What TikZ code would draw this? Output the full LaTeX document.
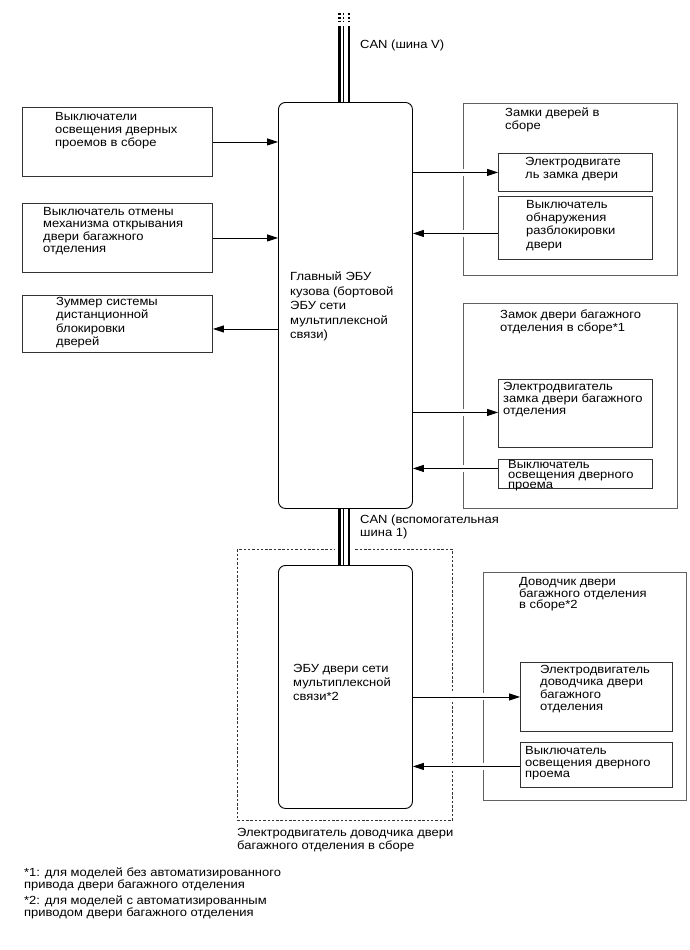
\documentclass[tikz,border=0pt]{standalone}
\usepackage{fontspec}
\setmainfont{Liberation Sans}[FakeStretch=1.1]
\usetikzlibrary{arrows.meta}
\newcommand{\fs}[1]{\fontsize{11.8}{#1}\selectfont}
\begin{document}
\begin{tikzpicture}[x=1pt,y=-1pt,
  box/.style={draw=black!80, line width=0.9pt, rectangle, inner sep=0pt, anchor=north west},
  grp/.style={draw=black!62, line width=1pt, rectangle, inner sep=0pt, anchor=north west},
  ecu/.style={draw=black, line width=0.9pt, rectangle, rounded corners=7pt, inner sep=0pt, anchor=north west},
  lbl/.style={anchor=north west, inner sep=0pt, align=left, font=\fs{13.3}},
  arr/.style={line width=0.9pt, -{Triangle[length=11pt,width=7pt]}},
  gaparr/.style={arr, preaction={draw=white, line width=7pt, -, shorten <=3pt, shorten >=3pt}},
  canthick/.style={line width=2.4pt},
  canthin/.style={line width=1.1pt},
]
\useasboundingbox (0,0) rectangle (690,950);
% ---- main ECU
\node[ecu, minimum width=134, minimum height=406] (main) at (278,102) {};
\node[lbl, font=\fs{14.5}] (maintxt) at (290,272) {Главный ЭБУ\\кузова (бортовой\\ЭБУ сети\\мультиплексной\\связи)};
% ---- left boxes
\node[box, minimum width=190, minimum height=69] (l1) at (22,107) {};
\node[lbl] at (55,112) {Выключатели\\освещения дверных\\проемов в сборе};
\node[box, minimum width=190, minimum height=69] (l2) at (22,203) {};
\node[lbl, font=\fs{12.5}] at (43,207) {Выключатель отмены\\механизма открывания\\двери багажного\\отделения};
\node[box, minimum width=190, minimum height=57] (l3) at (22,295) {};
\node[lbl, font=\fs{13.5}] at (56,297) {Зуммер системы\\дистанционной\\блокировки\\дверей};
% ---- right group 1
\node[grp, minimum width=214, minimum height=172] (r1) at (463,103) {};
\node[lbl, font=\fs{12.3}] at (505,108) {Замки дверей в\\сборе};
\node[box, minimum width=154, minimum height=38] (a) at (498,153) {};
\node[lbl, font=\fs{13}] at (525,157) {Электродвигате\\ль замка двери};
\node[box, minimum width=154, minimum height=63] (b) at (498,196) {};
\node[lbl] at (526,200) {Выключатель\\обнаружения\\разблокировки\\двери};
% ---- right group 2
\node[grp, minimum width=214, minimum height=205] (r2) at (463,303) {};
\node[lbl, font=\fs{13}] at (500,310) {Замок двери багажного\\отделения в сборе*1};
\node[box, minimum width=154, minimum height=68] (c) at (498,379) {};
\node[lbl, font=\fs{12}] at (503,382) {Электродвигатель\\замка двери багажного\\отделения};
\node[box, minimum width=154, minimum height=29] (d) at (498,459) {};
\node[lbl, font=\fs{10.3}] at (508,460) {Выключатель\\освещения дверного\\проема};
% ---- CAN top
\coordinate (cantop) at (345,13);
\draw[canthick, dash pattern=on 1.8pt off 2pt] ([xshift=-5.5pt]cantop) -- ++(0,10);
\draw[canthin, dash pattern=on 1.8pt off 2pt] ([xshift=-1.5pt]cantop) -- ++(0,10);
\draw[canthick, dash pattern=on 1.8pt off 2pt] ([xshift=3.8pt]cantop) -- ++(0,10);
\draw[canthick] ([xshift=-5.5pt,yshift=-13.5pt]cantop) -- ([xshift=-5.5pt]main.north -| cantop);
\draw[canthin] ([xshift=-1.5pt,yshift=-13.5pt]cantop) -- ([xshift=-1.5pt]main.north -| cantop);
\draw[canthick] ([xshift=3.8pt,yshift=-13.5pt]cantop) -- ([xshift=3.8pt]main.north -| cantop);
\node[lbl] (can1) at (360,40) {CAN (шина V)};
% ---- lower dashed assembly
\node[rectangle, draw=black!80, line width=0.9pt, dash pattern=on 2.5pt off 1.8pt, inner sep=0pt, anchor=north west, minimum width=215, minimum height=271] (asm) at (237,549) {};
\node[ecu, minimum width=134, minimum height=243] (ecu2) at (278,565) {};
\node[lbl, font=\fs{14}] at (293,664) {ЭБУ двери сети\\мультиплексной\\связи*2};
\node[lbl, font=\fs{13}] at (237,828) {Электродвигатель доводчика двери\\багажного отделения в сборе};
% CAN sub bus
\fill[white] (335,545) rectangle (355,553);
\draw[canthick] ([xshift=-5.5pt]main.south -| cantop) -- ([xshift=-5.5pt]ecu2.north -| cantop);
\draw[canthin] ([xshift=-1.5pt]main.south -| cantop) -- ([xshift=-1.5pt]ecu2.north -| cantop);
\draw[canthick] ([xshift=3.8pt]main.south -| cantop) -- ([xshift=3.8pt]ecu2.north -| cantop);
\node[lbl, font=\fs{13}] (can2) at (360,515) {CAN (вспомогательная\\шина 1)};
% ---- right group 3
\node[grp, minimum width=203, minimum height=228] (r3) at (483,572) {};
\node[lbl, font=\fs{11.8}] at (519,577) {Доводчик двери\\багажного отделения\\в сборе*2};
\node[box, minimum width=152, minimum height=69] (e) at (520,662) {};
\node[lbl, font=\fs{12.3}] at (540,665) {Электродвигатель\\доводчика двери\\багажного\\отделения};
\node[box, minimum width=152, minimum height=45] (f) at (520,742) {};
\node[lbl, font=\fs{11.8}] at (525,746) {Выключатель\\освещения дверного\\проема};
% ---- arrows
\draw[arr] (l1.east) -- (l1.east -| main.west);
\draw[arr] (l2.east) -- (l2.east -| main.west);
\draw[arr] ([yshift=-5pt]l3.east -| main.west) -- ([yshift=-5pt]l3.east);
\draw[gaparr] (a.west -| main.east) -- (a.west);
\draw[gaparr] ([yshift=-5.5pt]b.west) -- ([yshift=-5.5pt]b.west -| main.east);
\draw[gaparr] ([yshift=1pt]c.west -| main.east) -- ([yshift=1pt]c.west);
\draw[gaparr] ([yshift=5.5pt]d.west) -- ([yshift=5.5pt]d.west -| main.east);
\draw[gaparr] (e.west -| ecu2.east) -- (e.west);
\draw[gaparr] ([yshift=-1.5pt]f.west) -- ([yshift=-1.5pt]f.west -| ecu2.east);
% ---- footnotes
\node[lbl, font=\fs{12}] at (24,868) {*1: для моделей без автоматизированного\\привода двери багажного отделения};
\node[lbl, font=\fs{12}] at (24,896) {*2: для моделей с автоматизированным\\приводом двери багажного отделения};
\end{tikzpicture}
\end{document}
